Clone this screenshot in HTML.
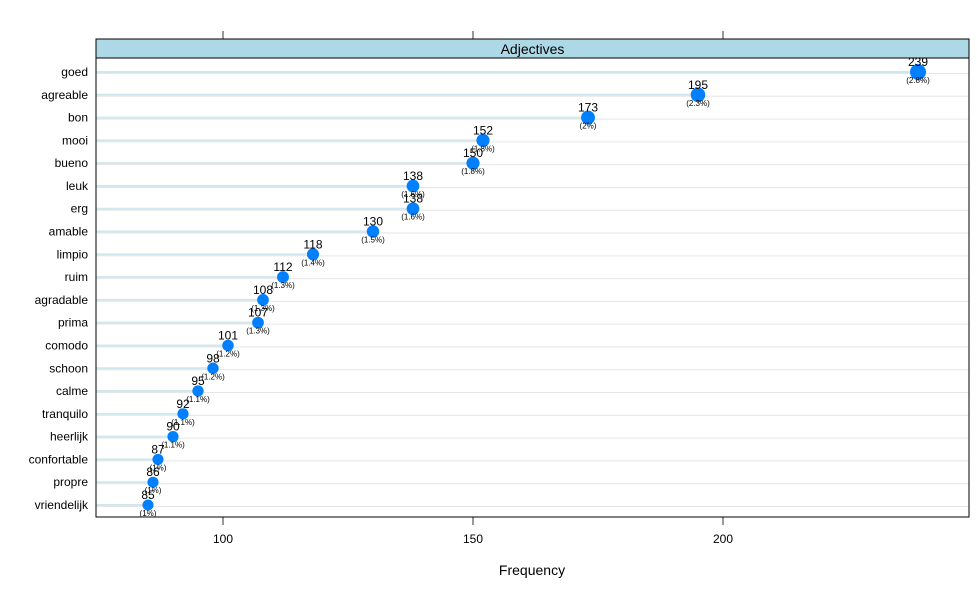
<!DOCTYPE html>
<html><head><meta charset="utf-8"><style>body{margin:0;background:#fff}svg{font-family:"Liberation Sans",Arial,sans-serif}</style></head>
<body>
<svg id="c" width="977" height="587"></svg>
<script>
const categories=["goed","agreable","bon","mooi","bueno","leuk","erg","amable","limpio","ruim","agradable","prima","comodo","schoon","calme","tranquilo","heerlijk","confortable","propre","vriendelijk"];
const values=[239,195,173,152,150,138,138,130,118,112,108,107,101,98,95,92,90,87,86,85];
const percents=["2.8%","2.3%","2%","1.8%","1.8%","1.6%","1.6%","1.5%","1.4%","1.3%","1.3%","1.3%","1.2%","1.2%","1.1%","1.1%","1.1%","1%","1%","1%"];
const xTicks=[100,150,200];
const svg=document.getElementById('c');const NS='http://www.w3.org/2000/svg';
function mk(t,a,p){const e=document.createElementNS(NS,t);for(const k in a)e.setAttribute(k,a[k]);(p||svg).appendChild(e);return e;}
const L=96,R=969,T=39,B=517;
const x=v=>223+(v-100)*5;
const y=i=>72+i*(505-72)/19;
const tickG=mk('g',{});


xTicks.forEach(t=>{mk('line',{x1:x(t),x2:x(t),y1:31,y2:39,stroke:'#333'},tickG);mk('line',{x1:x(t),x2:x(t),y1:517,y2:525,stroke:'#333'},tickG);
const tx=mk('text',{x:x(t),y:543,'font-size':12,'text-anchor':'middle'},tickG);tx.textContent=t;});
const strip=mk('rect',{x:L,y:T,width:R-L,height:19,fill:'#add8e6',stroke:'#000'});


const st=mk('text',{x:(L+R)/2,y:54,'font-size':14,'text-anchor':'middle'});st.textContent='Adjectives';


categories.forEach((c,i)=>{const yy=y(i),v=values[i];
const g=mk('g',{});


mk('line',{x1:L,x2:R,y1:yy+1.5,y2:yy+1.5,stroke:'#e6e6e6','stroke-width':1},g);
mk('line',{x1:L,x2:x(v),y1:yy,y2:yy,stroke:'#d0e7f0','stroke-width':2},g);
const r=5.5+(v-85)/(239-85)*2.5;
const d=mk('circle',{cx:x(v),cy:yy,r:r,fill:'#0080ff'},g);


const n=mk('text',{x:x(v),y:yy-6,'font-size':12,'text-anchor':'middle'},g);n.textContent=v;
const p=mk('text',{x:x(v),y:yy+11,'font-size':8,'text-anchor':'middle'},g);p.textContent='('+percents[i]+')';
const lb=mk('text',{x:88,y:yy+4,'font-size':12,'text-anchor':'end'},g);lb.textContent=c;


});
const fr=mk('rect',{x:L,y:T,width:R-L,height:B-T,fill:'none',stroke:'#000'});


const xt=mk('text',{x:532,y:575,'font-size':14,'text-anchor':'middle'});xt.textContent='Frequency';


</script>
</body></html>
